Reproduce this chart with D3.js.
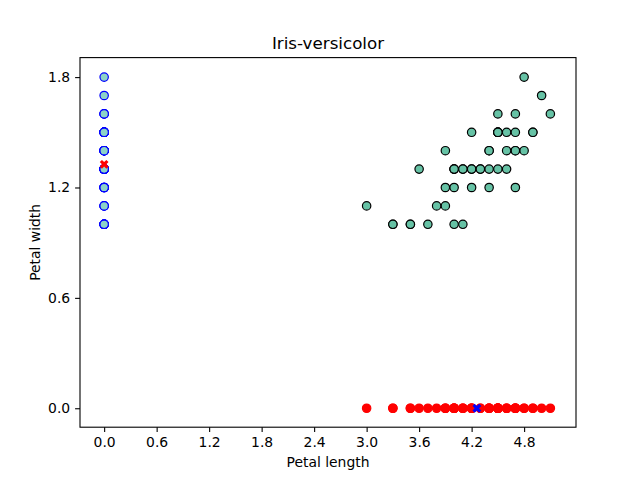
<!DOCTYPE html>
<html>
<head>
<meta charset="utf-8">
<script src="https://cdn.jsdelivr.net/npm/d3@7"></script>
<style>
  body { margin: 0; background: #fff; }
  text { font-family: "DejaVu Sans", sans-serif; }
</style>
</head>
<body>
<div id="chart"></div>
<script>
// Iris-versicolor samples
var petalLength = [4.7, 4.5, 4.9, 4.0, 4.6, 4.5, 4.7, 3.3, 4.6, 3.9,
                   3.5, 4.2, 4.0, 4.7, 3.6, 4.4, 4.5, 4.1, 4.5, 3.9,
                   4.8, 4.0, 4.9, 4.7, 4.3, 4.4, 4.8, 5.0, 4.5, 3.5,
                   3.8, 3.7, 3.9, 5.1, 4.5, 4.5, 4.7, 4.4, 4.1, 4.0,
                   4.4, 4.6, 4.0, 3.3, 4.2, 4.2, 4.2, 4.3, 3.0, 4.1];
var petalWidth = [1.4, 1.5, 1.5, 1.3, 1.5, 1.3, 1.6, 1.0, 1.3, 1.4,
                  1.0, 1.5, 1.0, 1.4, 1.3, 1.4, 1.5, 1.0, 1.5, 1.1,
                  1.8, 1.3, 1.5, 1.2, 1.3, 1.4, 1.4, 1.7, 1.5, 1.0,
                  1.1, 1.0, 1.2, 1.6, 1.5, 1.6, 1.5, 1.3, 1.3, 1.3,
                  1.2, 1.4, 1.2, 1.0, 1.3, 1.2, 1.3, 1.3, 1.1, 1.3];
var xTicks = [0.0, 0.6, 1.2, 1.8, 2.4, 3.0, 3.6, 4.2, 4.8];
var yTicks = [0.0, 0.6, 1.2, 1.8];

var W = 640, H = 480;
var pLeft = 80, pRight = 576, pTop = 57.6, pBottom = 427.2;

var meanL = d3.mean(petalLength);
var meanW = d3.mean(petalWidth);

var x = d3.scaleLinear().domain([-0.276, 5.393]).range([pLeft, pRight]);
var y = d3.scaleLinear().domain([-0.103, 1.906]).range([pBottom, pTop]);

var svg = d3.select('#chart').append('svg')
    .attr('width', W)
    .attr('height', H);

var r = 4.2;

// joint scatter
svg.append('g').selectAll('circle')
    .data(petalLength)
    .enter()
    .append('circle')
    .attr('cx', function (d) { return x(d); })
    .attr('cy', function (d, i) { return y(petalWidth[i]); })
    .attr('r', r)
    .attr('fill', '#66c2a5')
    .attr('stroke', '#000')
    .attr('stroke-width', 1.2);

// petal length on x axis
svg.append('g').selectAll('circle')
    .data(petalLength)
    .enter()
    .append('circle')
    .attr('cx', function (d) { return x(d); })
    .attr('cy', y(0))
    .attr('r', r)
    .attr('fill', '#ff0000')
    .attr('stroke', '#ff0000')
    .attr('stroke-width', 1.2);

// petal width on y axis
svg.append('g').selectAll('circle')
    .data(petalWidth)
    .enter()
    .append('circle')
    .attr('cx', x(0))
    .attr('cy', function (d) { return y(d); })
    .attr('r', r)
    .attr('fill', '#8dd3c7')
    .attr('stroke', '#0000ff')
    .attr('stroke-width', 1.2);

// means
var cross = d3.symbol().type(d3.symbolCross).size(48);
var means = [
    { px: 0, py: meanW, color: '#ff0000' },
    { px: meanL, py: 0, color: '#0000ff' }
];
svg.append('g').selectAll('path')
    .data(means)
    .enter()
    .append('path')
    .attr('d', cross)
    .attr('transform', function (d) {
        return 'translate(' + x(d.px) + ',' + y(d.py) + ') rotate(45)';
    })
    .attr('fill', function (d) { return d.color; });

// axes
var xAxis = d3.axisBottom(x).tickValues(xTicks).tickFormat(d3.format('.1f'))
    .tickSize(4.9).tickPadding(4.9);
var yAxis = d3.axisLeft(y).tickValues(yTicks).tickFormat(d3.format('.1f'))
    .tickSize(4.9).tickPadding(4.9);

var gx = svg.append('g').attr('transform', 'translate(0,' + pBottom + ')').call(xAxis);
var gy = svg.append('g').attr('transform', 'translate(' + pLeft + ',0)').call(yAxis);
[gx, gy].forEach(function (g) {
    g.select('.domain').remove();
    g.selectAll('.tick line').attr('stroke', '#000').attr('stroke-width', 1.1);
    g.selectAll('.tick text').attr('fill', '#000').style('font-size', '13.9px')
        .style('font-family', '"DejaVu Sans", sans-serif');
});

svg.append('rect')
    .attr('x', pLeft)
    .attr('y', pTop)
    .attr('width', pRight - pLeft)
    .attr('height', pBottom - pTop)
    .attr('fill', 'none')
    .attr('stroke', '#000')
    .attr('stroke-width', 1.1);

svg.append('text')
    .attr('x', (pLeft + pRight) / 2)
    .attr('y', pTop - 8.3)
    .attr('text-anchor', 'middle')
    .style('font-size', '16.7px')
    .text('Iris-versicolor');

svg.append('text')
    .attr('x', (pLeft + pRight) / 2)
    .attr('y', 467)
    .attr('text-anchor', 'middle')
    .style('font-size', '13.9px')
    .text('Petal length');

svg.append('text')
    .attr('transform', 'translate(40,' + ((pTop + pBottom) / 2) + ') rotate(-90)')
    .attr('text-anchor', 'middle')
    .style('font-size', '13.9px')
    .text('Petal width');
</script>
</body>
</html>
